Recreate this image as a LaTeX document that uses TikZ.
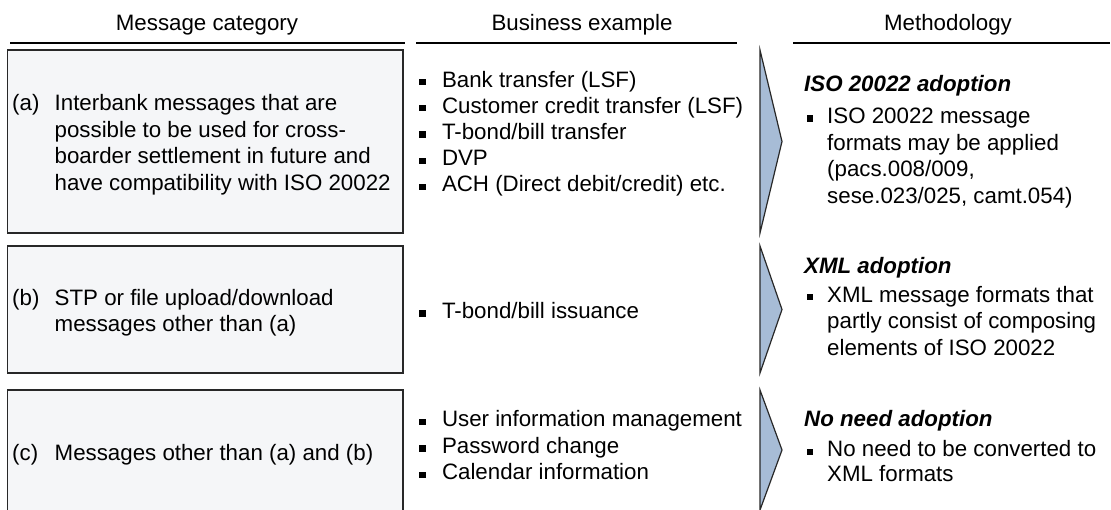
\documentclass[tikz,border=0pt]{standalone}
\usepackage{fontspec}
\setmainfont{Liberation Sans}
\definecolor{boxfill}{RGB}{245,246,248}
\definecolor{arrfill}{RGB}{167,188,214}
\definecolor{edgecol}{RGB}{40,40,40}
\newcommand\fsz[1]{\fontsize{22.3}{#1}\selectfont}
\newcommand\sq{\rule[1.8pt]{6.3pt}{6.3pt}}
\newcommand\lab[1]{\makebox[42.5pt][l]{#1}}
\begin{document}
\begin{tikzpicture}[x=1pt,y=-1pt,
  catbox/.style={draw=edgecol, line width=1.4pt, fill=boxfill, inner sep=0, outer sep=0},
  chev/.style={draw=edgecol, line width=1.2pt, fill=arrfill, line join=miter},
  hdr/.style={font=\fsz{26.5}, anchor=base, inner sep=0},
  rulez/.style={line width=1.5pt, black},
  txt/.style={font=\fsz{#1}, anchor=base west, inner sep=0},
  txt/.default=26.5,
  headtxt/.style={font=\fsz{26.5}\bfseries\itshape, anchor=base west, inner sep=0}]
\useasboundingbox (0,0) rectangle (1111,509);
\clip (0,0) rectangle (1111,509);

% column headers
\node[hdr] (h1) at (207,30) {Message category};
\node[hdr] (h2) at (582,30) {Business example};
\node[hdr] (h3) at (948,30) {Methodology};
\draw[rulez] (10,43) -- (405,43);
\draw[rulez] (416,43) -- (737,43);
\draw[rulez] (793,43) -- (1110,43);

% category boxes
\node[catbox, minimum width=395.5pt, minimum height=183pt] (boxa) at (205.25,141.5) {};
\node[catbox, minimum width=395.5pt, minimum height=127pt] (boxb) at (205.25,309.5) {};
\node[catbox, minimum width=395.5pt, minimum height=121pt] (boxc) at (205.25,450.5) {};

\node[txt] (ta) at (12,110.5) {\begin{tabular}[t]{@{}l@{}}\lab{(a)}Interbank messages that are\\\lab{}possible to be used for cross-\\\lab{}boarder settlement in future and\\\lab{}have compatibility with ISO 20022\end{tabular}};
\node[txt] (tb) at (12,305) {\begin{tabular}[t]{@{}l@{}}\lab{(b)}STP or file upload/download\\\lab{}messages other than (a)\end{tabular}};
\node[txt] (tc) at (12,460) {\lab{(c)}Messages other than (a) and (b)};

% business examples
\node[txt=26.2] (ba) at (419,87) {\begin{tabular}[t]{@{}l@{\hspace{16.5pt}}l@{}}\sq&Bank transfer (LSF)\\\sq&Customer credit transfer (LSF)\\\sq&T-bond/bill transfer\\\sq&DVP\\\sq&ACH (Direct debit/credit) etc.\end{tabular}};
\node[txt] (bb) at (419,318.3) {\begin{tabular}[t]{@{}l@{\hspace{16.5pt}}l@{}}\sq&T-bond/bill issuance\end{tabular}};
\node[txt=26.6] (bc) at (419,426.7) {\begin{tabular}[t]{@{}l@{\hspace{16.5pt}}l@{}}\sq&User information management\\\sq&Password change\\\sq&Calendar information\end{tabular}};

% chevrons
\draw[chev] (760,50) -- (782,141.5) -- (760,233) -- cycle;
\draw[chev] (760,246) -- (782,309.5) -- (760,373) -- cycle;
\draw[chev] (760,390) -- (782,450) -- (760,510) -- cycle;

% methodology
\node[headtxt] (m1h) at (804,91.7) {ISO 20022 adoption};
\node[txt=26.7] (m1) at (806.7,123.3) {\begin{tabular}[t]{@{}l@{\hspace{14pt}}l@{}}\sq&ISO 20022 message\\&formats may be applied\\&(pacs.008/009,\\&sese.023/025, camt.054)\end{tabular}};
\node[headtxt] (m2h) at (804,273) {XML adoption};
\node[txt=26.5] (m2) at (806.7,302) {\begin{tabular}[t]{@{}l@{\hspace{14pt}}l@{}}\sq&XML message formats that\\&partly consist of composing\\&elements of ISO 20022\end{tabular}};
\node[headtxt] (m3h) at (804,426.7) {No need adoption};
\node[txt=25] (m3) at (806.7,456.7) {\begin{tabular}[t]{@{}l@{\hspace{14pt}}l@{}}\sq&No need to be converted to\\&XML formats\end{tabular}};
\end{tikzpicture}
\end{document}
